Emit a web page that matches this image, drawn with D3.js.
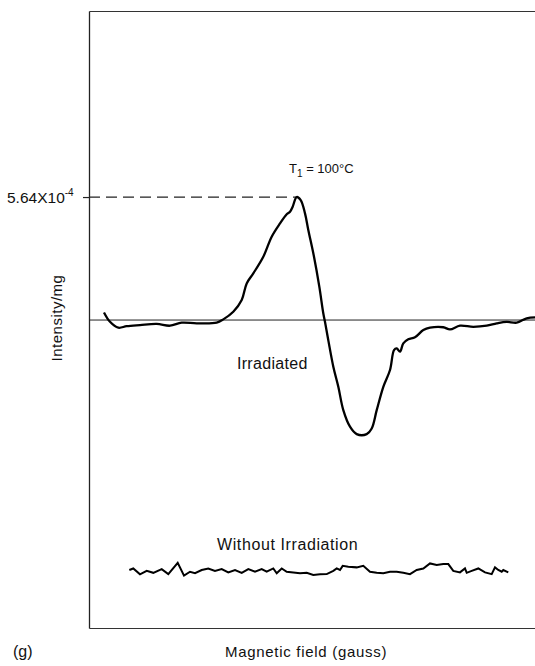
<!DOCTYPE html>
<html>
<head>
<meta charset="utf-8">
<script src="https://cdn.jsdelivr.net/npm/d3@7"></script>
<style>
  body { margin: 0; background: #fff; }
  text { font-family: "Liberation Sans", Arial, sans-serif; fill: #111; }
</style>
</head>
<body>
<script>
// field in arbitrary units (0-100), intensity in units of 1e-4 per mg
var irrField = [3.36, 4.71, 6.57, 8.45, 11.43, 15.18, 18.16, 20.78, 24.15, 28.63, 30.11, 32.35, 34.24, 35.36, 36.84, 39.08, 40.96, 42.83, 44.33, 45.07, 45.67, 46.57, 47.47, 48.43, 49.17, 50.45, 51.64, 52.53, 52.91, 53.65, 54.78, 55.90, 57.02, 58.52, 60.02, 62.26, 63.39, 64.51, 65.99, 67.49, 68.39, 68.99, 69.73, 70.47, 71.59, 73.09, 74.96, 76.46, 79.44, 80.94, 83.18, 86.17, 89.17, 91.41, 93.65, 95.90, 98.14, 100];
var irrIntensity = [0.35, -0.08, -0.35, -0.28, -0.23, -0.18, -0.26, -0.12, -0.15, -0.12, 0.03, 0.38, 0.92, 1.68, 2.14, 2.90, 3.82, 4.43, 4.85, 4.97, 5.20, 5.64, 5.50, 4.89, 4.13, 2.90, 1.53, 0.31, -0.08, -0.92, -2.14, -3.06, -4.13, -4.89, -5.23, -5.23, -4.97, -4.13, -3.06, -2.29, -1.38, -1.30, -1.45, -1.07, -0.88, -0.79, -0.46, -0.35, -0.33, -0.43, -0.26, -0.31, -0.26, -0.15, -0.08, -0.12, 0.08, 0.12];

var noiseField = [9.04, 9.93, 11.43, 12.94, 14.42, 16.30, 17.78, 19.89, 21.30, 22.65, 23.77, 25.27, 26.75, 28.25, 29.75, 31.23, 32.74, 34.24, 35.72, 37.22, 38.72, 39.84, 41.32, 42.09, 43.21, 44.33, 45.81, 47.31, 48.81, 50.29, 51.79, 53.30, 54.78, 55.54, 56.28, 56.88, 58.14, 60.02, 61.50, 63.00, 64.51, 65.99, 67.49, 68.99, 70.47, 71.97, 73.48, 74.96, 76.46, 77.96, 79.44, 80.56, 81.68, 83.18, 84.30, 84.69, 85.81, 87.29, 88.79, 90.29, 91.03, 91.77, 92.53, 92.89, 94.01];
var noiseIntensity = [-11.46, -11.39, -11.66, -11.50, -11.59, -11.42, -11.65, -11.13, -11.72, -11.54, -11.61, -11.46, -11.39, -11.50, -11.42, -11.57, -11.46, -11.59, -11.42, -11.54, -11.42, -11.54, -11.39, -11.61, -11.39, -11.54, -11.57, -11.61, -11.59, -11.69, -11.66, -11.65, -11.50, -11.39, -11.46, -11.27, -11.31, -11.34, -11.27, -11.54, -11.59, -11.61, -11.54, -11.54, -11.59, -11.65, -11.46, -11.39, -11.16, -11.23, -11.19, -11.19, -11.50, -11.57, -11.39, -11.59, -11.50, -11.39, -11.57, -11.65, -11.34, -11.46, -11.54, -11.46, -11.57];

var peakValue = 5.64;
var peakField = 46.57;
var yTicks = [peakValue];

var width = 535, height = 666;
var margin = {top: 11, right: 0, bottom: 38, left: 89};

var svg = d3.select("body").append("svg")
    .attr("width", width)
    .attr("height", height);

var x = d3.scaleLinear().domain([0, 100]).range([margin.left, width - margin.right]);
var y = d3.scaleLinear().domain([-14.12, 14.17]).range([height - margin.bottom, margin.top]);

//frame: top, left and bottom edges
svg.append("g")
    .attr("transform", "translate(0," + margin.top + ")")
    .call(d3.axisTop(x).tickValues([]).tickSizeOuter(0))
    .call(g => g.select(".domain").attr("stroke", "#333").attr("stroke-width", 1.2));

svg.append("g")
    .attr("transform", "translate(0," + (height - margin.bottom) + ")")
    .call(d3.axisBottom(x).tickValues([]).tickSizeOuter(0))
    .call(g => g.select(".domain").attr("stroke", "#333").attr("stroke-width", 1.2));

var yAxis = svg.append("g")
    .attr("transform", "translate(" + margin.left + ",0)")
    .call(d3.axisLeft(y).tickValues(yTicks).tickSize(6).tickSizeOuter(0).tickFormat(""));
yAxis.select(".domain").attr("stroke", "#222").attr("stroke-width", 1.3);
yAxis.selectAll(".tick line").attr("stroke", "#222").attr("stroke-width", 1.2);

//tick label with exponent
var tl = yAxis.selectAll(".tick").append("text")
    .attr("x", -82)
    .attr("y", 5)
    .attr("text-anchor", "start")
    .style("font-size", "15.5px")
    .attr("fill", "#111");
tl.append("tspan").text("5.64X10");
tl.append("tspan").attr("dy", -7).style("font-size", "10px").text("-4");

//zero line
svg.append("line")
    .attr("x1", x.range()[0]).attr("x2", x.range()[1])
    .attr("y1", y(0)).attr("y2", y(0))
    .attr("stroke", "#222").attr("stroke-width", 1);

//dashed line to the peak
svg.append("line")
    .attr("x1", x.range()[0]).attr("x2", x(peakField))
    .attr("y1", y(peakValue)).attr("y2", y(peakValue))
    .attr("stroke", "#222").attr("stroke-width", 1.2)
    .attr("stroke-dasharray", "11,6");

var irradiated = irrField.map((f, i) => ({f: f, v: irrIntensity[i]}));
var noise = noiseField.map((f, i) => ({f: f, v: noiseIntensity[i]}));

svg.append("path")
    .datum(irradiated)
    .attr("fill", "none")
    .attr("stroke", "#000")
    .attr("stroke-width", 2.3)
    .attr("stroke-linejoin", "round")
    .attr("d", d3.line().x(d => x(d.f)).y(d => y(d.v)).curve(d3.curveCatmullRom));

svg.append("path")
    .datum(noise)
    .attr("fill", "none")
    .attr("stroke", "#000")
    .attr("stroke-width", 2)
    .attr("d", d3.line().x(d => x(d.f)).y(d => y(d.v)));

//labels
svg.append("text")
    .attr("transform", "translate(62,318) rotate(-90)")
    .attr("text-anchor", "middle")
    .style("font-size", "15px")
    .style("letter-spacing", "0.5px")
    .text("Intensity/mg");

var t1 = svg.append("text")
    .attr("x", 289).attr("y", 173)
    .style("font-size", "13px");
t1.append("tspan").text("T");
t1.append("tspan").attr("dy", 4).style("font-size", "10px").text("1");
t1.append("tspan").attr("dy", -4).text("  =  100°C");

svg.append("text")
    .attr("x", 237).attr("y", 369)
    .style("font-size", "16px")
    .style("letter-spacing", "0.3px")
    .text("Irradiated");

svg.append("text")
    .attr("x", 217).attr("y", 550)
    .style("font-size", "16px")
    .style("letter-spacing", "0.6px")
    .text("Without Irradiation");

svg.append("text")
    .attr("x", 13).attr("y", 657)
    .style("font-size", "16px")
    .text("(g)");

svg.append("text")
    .attr("x", 225).attr("y", 657)
    .style("font-size", "15px")
    .style("letter-spacing", "0.7px")
    .text("Magnetic field (gauss)");
</script>
</body>
</html>
